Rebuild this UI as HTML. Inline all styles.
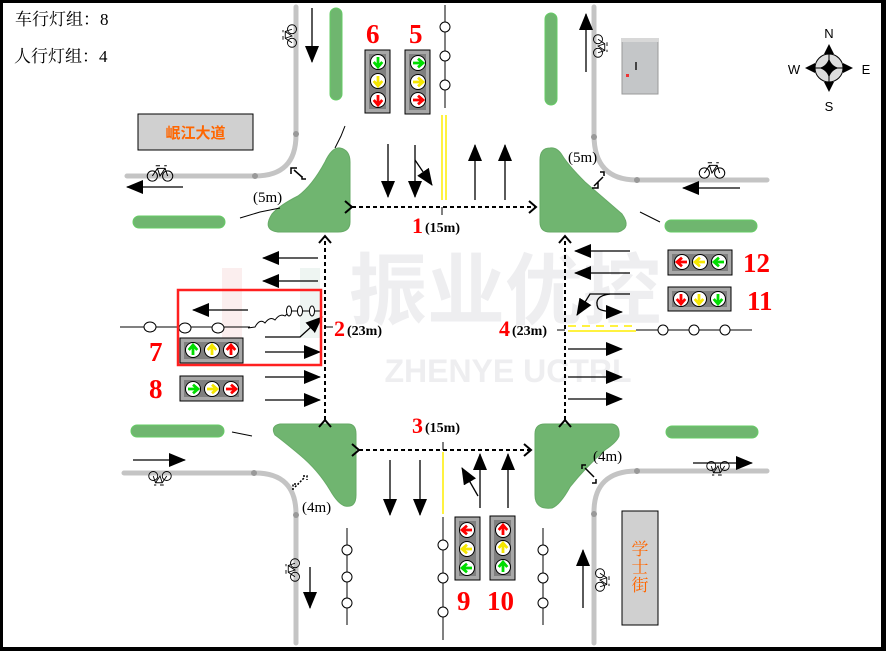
<!DOCTYPE html>
<html><head><meta charset="utf-8"><style>
html,body{margin:0;padding:0;background:#fff;}
svg{display:block;}
</style></head><body>
<svg width="886" height="651" viewBox="0 0 886 651" xmlns="http://www.w3.org/2000/svg" xmlns:xlink="http://www.w3.org/1999/xlink">
<defs>
<marker id="ah" markerUnits="userSpaceOnUse" markerWidth="18" markerHeight="14" refX="16" refY="7" orient="auto"><path d="M0,0 L17,7 L0,14 Z" fill="#000"/></marker>
<marker id="dh" markerUnits="userSpaceOnUse" markerWidth="12" markerHeight="14" refX="9" refY="7" orient="auto"><path d="M2,1 L9,7 L2,13" fill="none" stroke="#000" stroke-width="2"/></marker>
<g id="Lu"><circle r="7.5" fill="#fff" stroke="#000" stroke-width="1"/><path d="M0,5V-4 M-4.3,0L0,-5L4.3,0" fill="none" stroke="currentColor" stroke-width="2.8"/></g>
<g id="bk" fill="none" stroke="#000" stroke-width="1.2"><circle cx="-9" cy="0" r="6"/><circle cx="9" cy="0" r="6"/><path d="M-9,0 L-3,-9 L6,-9 L9,0 M-3,-9 L0,0 L6,-9 M-5,-12 L0,-12 M5,-12 L8,-12"/></g>
</defs>
<rect x="0" y="0" width="886" height="651" fill="#fff"/>
<!-- watermark -->
<text x="505" y="318" font-family="Noto Sans CJK SC, sans-serif" font-size="78" font-weight="bold" fill="#eeeef0" text-anchor="middle">振业优控</text>
<text x="508" y="382" font-family="Liberation Sans, sans-serif" font-size="32" font-weight="bold" fill="#eeeef0" text-anchor="middle">ZHENYE UCTRL</text>
<rect x="222" y="268" width="20" height="70" fill="#fbeeee"/>
<rect x="300" y="268" width="20" height="70" fill="#eef5f2"/>
<!-- curb roads -->
<g fill="none" stroke="#c4c4c4" stroke-width="5" stroke-linecap="round">
<path d="M296,7 V135 Q296,176 255,176 H127"/>
<path d="M594,7 V135 Q594,180 637,180 H767"/>
<path d="M124,473 H255 Q296,473 296,514 V643"/>
<path d="M594,643 V512 Q594,471 637,471 H767"/>
</g>
<g fill="#999"><circle cx="296" cy="134" r="3"/><circle cx="255" cy="176" r="3"/><circle cx="594" cy="137" r="3"/><circle cx="637" cy="180" r="3"/><circle cx="254" cy="473" r="3"/><circle cx="296" cy="515" r="3"/><circle cx="637" cy="471" r="3"/><circle cx="594" cy="514" r="3"/></g>
<!-- medians -->
<g stroke="#66cc66" stroke-width="1" fill="#6fb66f">
<rect x="330" y="8" width="12" height="92" rx="6"/>
<rect x="545" y="13" width="12" height="92" rx="6"/>
<rect x="133" y="216" width="92" height="12" rx="6"/>
<rect x="665" y="220" width="92" height="12" rx="6"/>
<rect x="131" y="425" width="93" height="12" rx="6"/>
<rect x="666" y="426" width="92" height="12" rx="6"/>
</g>
<!-- islands -->
<g fill="#70b570" stroke="#66aa66">
<path d="M340,148 Q350,150 350,162 V222 Q350,232 338,232 H278 Q262,230 272,214 Q280,205 298,196 Q312,186 325,162 Q332,147 340,148 Z"/>
<path d="M550,148 Q540,148 540,160 V222 Q540,232 550,232 H618 Q632,228 622,214 Q600,195 585,182 Q568,165 562,155 Q557,147 550,148 Z"/>
<path d="M280,424 H348 Q356,424 356,434 V495 Q356,508 345,506 Q338,504 330,490 Q318,470 300,455 Q282,440 275,435 Q270,426 280,424 Z"/>
<path d="M545,424 H612 Q620,425 619,436 Q617,442 605,450 Q585,468 570,487 Q560,505 552,508 Q535,510 535,495 V434 Q535,424 545,424 Z"/>
</g>
<!-- corner radius marks -->
<g fill="none" stroke="#000" stroke-width="1.5">
<path d="M291,174 v-6 h6 M306,179 h-4 v-3 M294,170 l8,7"/>
<path d="M592,188 h6 v-6 M604,176 v-4 h-4 M594,186 l9,-9"/>
<path d="M293,490 v-6 h6 M303,476 h4 v4 M295,487 l9,-9" stroke-dasharray="2,1.5"/>
<path d="M586,465 h-4 v4 M596,479 v4 h-4 M585,468 l9,9"/>
</g>
<g font-family="Liberation Serif, serif" font-size="15" fill="#000">
<text x="253" y="202">(5m)</text>
<text x="568" y="162">(5m)</text>
<text x="302" y="512">(4m)</text>
<text x="593" y="461">(4m)</text>
</g>
<!-- dotted lines -->
<g fill="none" stroke="#000" stroke-width="2" stroke-dasharray="4,3">
<path d="M352,207 H536" marker-end="url(#dh)" marker-start="url(#dh)"/>
<path d="M325,420 V236" marker-end="url(#dh)" marker-start="url(#dh)"/>
<path d="M359,450 H531" marker-end="url(#dh)" marker-start="url(#dh)"/>
<path d="M565,420 V236" marker-end="url(#dh)" marker-start="url(#dh)"/>
</g>
<g stroke="#000" stroke-width="1"><path d="M442,207 v8 M443,450 v-8 M325,327 h8 M565,330 h-8"/></g>
<!-- labels -->
<g font-family="Liberation Serif, serif" font-weight="bold">
<text x="412" y="233" font-size="22" fill="#f00">1</text><text x="425" y="232" font-size="14">(15m)</text>
<text x="334" y="336" font-size="22" fill="#f00">2</text><text x="347" y="335" font-size="14">(23m)</text>
<text x="412" y="433" font-size="22" fill="#f00">3</text><text x="425" y="432" font-size="14">(15m)</text>
<text x="499" y="336" font-size="22" fill="#f00">4</text><text x="512" y="335" font-size="14">(23m)</text>
</g>
<!-- yellow lines -->
<g stroke="#ffee00" stroke-width="1.5" fill="none">
<path d="M442,115 V200 M446,115 V200"/>
<path d="M443,452 V514"/>
<path d="M568,326 H636" stroke-dasharray="8,6"/><path d="M568,331 H636"/>
</g>
<!-- pedestrian crossings -->
<g fill="#fff" stroke="#000" stroke-width="1">
<path d="M445,5 V108 M443,517 V640 M347,528 V625 M543,528 V625 M120,327 H250 M636,330 H752" fill="none"/>
<circle cx="445" cy="27" r="5"/><circle cx="445" cy="56" r="5"/><circle cx="445" cy="85" r="5"/>
<circle cx="443" cy="545" r="5"/><circle cx="443" cy="578" r="5"/><circle cx="443" cy="612" r="5"/>
<circle cx="347" cy="550" r="5"/><circle cx="347" cy="577" r="5"/><circle cx="347" cy="603" r="5"/>
<circle cx="543" cy="550" r="5"/><circle cx="543" cy="578" r="5"/><circle cx="543" cy="603" r="5"/>
<ellipse cx="150" cy="327" rx="6" ry="5"/><ellipse cx="185" cy="328" rx="6" ry="5"/><ellipse cx="218" cy="328" rx="6" ry="5"/>
<circle cx="663" cy="330" r="5"/><circle cx="694" cy="330" r="5"/><circle cx="725" cy="330" r="5"/>
<path d="M248,328 L255,327 Q260,318 265,323 Q270,316 275,320 Q280,313 285,316 L290,311 H320" fill="none"/>
<ellipse cx="289" cy="311" rx="2.5" ry="5"/><ellipse cx="300" cy="311" rx="2.5" ry="5"/><ellipse cx="312" cy="311" rx="2.5" ry="5"/>
<path d="M335,148 l6,-12 l4,-10 M240,218 l20,-6 l20,-4 M640,212 l20,10 M232,432 l20,4" fill="none"/>
</g>
<!-- black arrows -->
<g stroke="#000" stroke-width="1.3" fill="none" marker-end="url(#ah)">
<path d="M312,8 V62"/><path d="M586,72 V14"/>
<path d="M388,144 V197"/><path d="M415,145 V197"/><path d="M415,160 L432,185"/>
<path d="M475,200 V145"/><path d="M505,200 V145"/>
<path d="M183,187 H127"/><path d="M740,188 H683"/>
<path d="M318,258 H263"/><path d="M318,281 H263"/><path d="M248,310 H193"/>
<path d="M265,337 H300 L322,317"/><path d="M265,352 H320"/><path d="M265,377 H320"/><path d="M265,400 H320"/>
<path d="M630,251 H575"/><path d="M630,273 H575"/>
<path d="M630,294 H590 L577,315"/><path d="M610,294 Q593,296 598,308 Q601,312 622,312"/>
<path d="M568,349 H622"/><path d="M568,377 H622"/><path d="M568,399 H622"/>
<path d="M133,460 H185"/><path d="M693,463 H752"/>
<path d="M390,460 V515"/><path d="M420,460 V515"/>
<path d="M480,508 V454"/><path d="M508,508 V454"/><path d="M478,496 L462,468"/>
<path d="M310,567 V608"/><path d="M583,608 V550"/>
</g>
<!-- bikes -->
<use xlink:href="#bk" transform="translate(160,176) scale(0.85)"/>
<use xlink:href="#bk" transform="translate(712,173) scale(0.85)"/>
<use xlink:href="#bk" transform="translate(292,36) rotate(-90) scale(0.75)"/>
<use xlink:href="#bk" transform="translate(598,46) rotate(90) scale(0.75)"/>
<use xlink:href="#bk" transform="translate(160,476) rotate(180) scale(0.75)"/>
<use xlink:href="#bk" transform="translate(718,466) rotate(180) scale(0.75)"/>
<use xlink:href="#bk" transform="translate(295,570) rotate(-90) scale(0.75)"/>
<use xlink:href="#bk" transform="translate(600,580) rotate(90) scale(0.75)"/>
<!-- signal housings -->
<g stroke="#000" stroke-width="1">
<rect x="365" y="50" width="25" height="63" fill="#a8a8a8"/><rect x="369" y="54" width="17" height="55" fill="#7f7f7f" stroke="none"/>
<rect x="405" y="50" width="25" height="64" fill="#a8a8a8"/><rect x="409" y="54" width="17" height="56" fill="#7f7f7f" stroke="none"/>
<rect x="455" y="517" width="25" height="63" fill="#a8a8a8"/><rect x="459" y="521" width="17" height="55" fill="#7f7f7f" stroke="none"/>
<rect x="490" y="516" width="25" height="64" fill="#a8a8a8"/><rect x="494" y="520" width="17" height="56" fill="#7f7f7f" stroke="none"/>
<rect x="180" y="338" width="63" height="25" fill="#a8a8a8"/><rect x="184" y="342" width="55" height="17" fill="#7f7f7f" stroke="none"/>
<rect x="180" y="376" width="63" height="25" fill="#a8a8a8"/><rect x="184" y="380" width="55" height="17" fill="#7f7f7f" stroke="none"/>
<rect x="668" y="250" width="64" height="25" fill="#a8a8a8"/><rect x="672" y="254" width="56" height="17" fill="#7f7f7f" stroke="none"/>
<rect x="668" y="287" width="63" height="24" fill="#a8a8a8"/><rect x="672" y="291" width="55" height="16" fill="#7f7f7f" stroke="none"/>
</g>
<!-- lights -->
<use xlink:href="#Lu" color="#00dd00" transform="translate(378,62) rotate(180)"/>
<use xlink:href="#Lu" color="#f5e600" transform="translate(378,81) rotate(180)"/>
<use xlink:href="#Lu" color="#ff0000" transform="translate(378,100) rotate(180)"/>
<use xlink:href="#Lu" color="#00dd00" transform="translate(418,63) rotate(90)"/>
<use xlink:href="#Lu" color="#f5e600" transform="translate(418,82) rotate(90)"/>
<use xlink:href="#Lu" color="#ff0000" transform="translate(418,100) rotate(90)"/>
<use xlink:href="#Lu" color="#ff0000" transform="translate(467,530) rotate(-90)"/>
<use xlink:href="#Lu" color="#f5e600" transform="translate(467,549) rotate(-90)"/>
<use xlink:href="#Lu" color="#00dd00" transform="translate(467,568) rotate(-90)"/>
<use xlink:href="#Lu" color="#ff0000" transform="translate(503,530)"/>
<use xlink:href="#Lu" color="#f5e600" transform="translate(503,548)"/>
<use xlink:href="#Lu" color="#00dd00" transform="translate(503,567)"/>
<use xlink:href="#Lu" color="#00dd00" transform="translate(193,350)"/>
<use xlink:href="#Lu" color="#f5e600" transform="translate(212,350)"/>
<use xlink:href="#Lu" color="#ff0000" transform="translate(231,350)"/>
<use xlink:href="#Lu" color="#00dd00" transform="translate(193,389) rotate(90)"/>
<use xlink:href="#Lu" color="#f5e600" transform="translate(212,389) rotate(90)"/>
<use xlink:href="#Lu" color="#ff0000" transform="translate(231,389) rotate(90)"/>
<use xlink:href="#Lu" color="#ff0000" transform="translate(682,262) rotate(-90)"/>
<use xlink:href="#Lu" color="#f5e600" transform="translate(700,262) rotate(-90)"/>
<use xlink:href="#Lu" color="#00dd00" transform="translate(719,262) rotate(-90)"/>
<use xlink:href="#Lu" color="#ff0000" transform="translate(681,299) rotate(180)"/>
<use xlink:href="#Lu" color="#f5e600" transform="translate(699,299) rotate(180)"/>
<use xlink:href="#Lu" color="#00dd00" transform="translate(718,299) rotate(180)"/>
<!-- red box -->
<rect x="178" y="290" width="143" height="75" fill="none" stroke="#ff2020" stroke-width="2.5"/>
<!-- signal numbers -->
<g font-family="Liberation Serif, serif" font-weight="bold" font-size="27" fill="#ff0000">
<text x="366" y="43">6</text><text x="409" y="43">5</text>
<text x="149" y="361">7</text><text x="149" y="398">8</text>
<text x="457" y="610">9</text><text x="487" y="610">10</text>
<text x="743" y="272">12</text><text x="747" y="310">11</text>
</g>
<!-- road names -->
<rect x="138" y="114" width="115" height="36" fill="#d0d0d0" stroke="#000" stroke-width="1"/>
<text x="195.5" y="138" font-family="Noto Sans CJK SC, sans-serif" font-weight="bold" font-size="15" fill="#ff6600" text-anchor="middle">岷江大道</text>
<rect x="622" y="511" width="36" height="114" fill="#d0d0d0" stroke="#000" stroke-width="1"/>
<g font-family="Noto Serif CJK SC, serif" font-size="17" fill="#ff6600" text-anchor="middle">
<text x="640" y="555">学</text><text x="640" y="573">士</text><text x="640" y="591">街</text></g>
<!-- top-left text -->
<g font-family="Liberation Serif, 'Noto Serif CJK SC', serif" font-size="17" fill="#000">
<text x="15" y="25">车行灯组：8</text>
<text x="14" y="62">人行灯组：4</text>
</g>
<!-- cabinet -->
<rect x="622" y="40" width="36" height="54" fill="#c4c6c8" stroke="#9a9a9a"/>
<rect x="621" y="38" width="38" height="4" fill="#d8d8d8"/>
<rect x="635" y="62" width="2" height="8" fill="#444"/><rect x="626" y="74" width="3" height="3" fill="#e33"/>
<!-- compass -->
<g>
<circle cx="829" cy="68" r="14" fill="#ddd" stroke="#000" stroke-width="1"/>
<path d="M829,54 V82 M815,68 H843" stroke="#000"/>
<path d="M829,58 Q831,66 839,68 Q831,70 829,78 Q827,70 819,68 Q827,66 829,58 Z" fill="#000"/>
<path d="M829,44 l-5,10 h10 Z M829,92 l-5,-10 h10 Z M805,68 l10,-5 v10 Z M853,68 l-10,-5 v10 Z" fill="#000"/>
<g font-family="Liberation Sans, sans-serif" font-size="13" fill="#000" text-anchor="middle">
<text x="829" y="38">N</text><text x="829" y="111">S</text><text x="794" y="74">W</text><text x="866" y="74">E</text></g>
</g>
<!-- frame border -->
<rect x="1.5" y="1.5" width="881" height="647" fill="none" stroke="#000" stroke-width="3"/>
<rect x="881" y="0" width="5" height="651" fill="#000"/>
<rect x="0" y="647" width="886" height="4" fill="#000"/>
</svg>
</body></html>
